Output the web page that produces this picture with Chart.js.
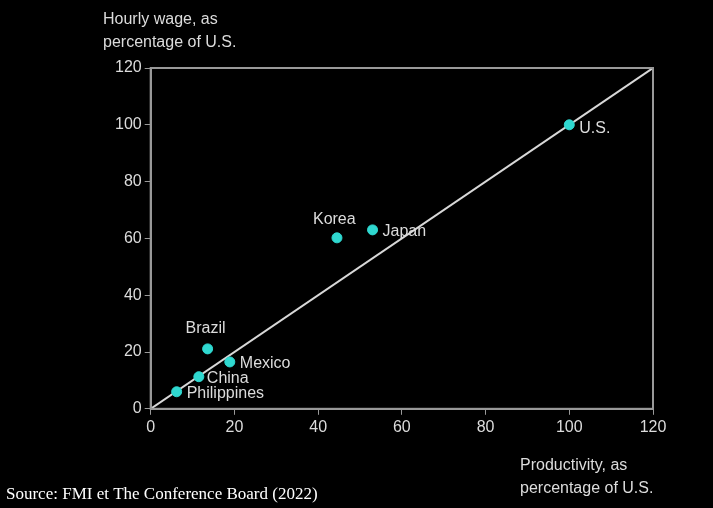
<!DOCTYPE html>
<html><head><meta charset="utf-8">
<script src="https://cdn.jsdelivr.net/npm/chart.js@4"></script>
<style>html,body{margin:0;background:#000;}#wrap{width:713px;height:508px;position:relative;}</style>
</head><body><div id="wrap"><canvas id="c"></canvas></div>
<script>
const countries = ['U.S.', 'Japan', 'Korea', 'Brazil', 'Mexico', 'China', 'Philippines'];
const productivity = [100, 53, 44.5, 13.6, 18.9, 11.5, 6.2];
const wages = [100, 63, 60.2, 21.1, 16.5, 11.3, 6];
const labelOffsets = [[10, 4], [10, 2], [-24, -18], [-22, -20], [10, 2], [8, 2], [10, 2]];
const ticks = [0, 20, 40, 60, 80, 100, 120];

const txt = '#dcdcdc';
const font = {family: 'Liberation Sans, Arial', size: 16};

const overlay = {
  id: 'overlay',
  afterDatasetsDraw(chart) {
    const c = chart.ctx, xs = chart.scales.x, ys = chart.scales.y;
    const a = chart.chartArea;
    c.save();
    // frame round the plot
    c.strokeStyle = '#999';
    c.lineWidth = 2;
    c.strokeRect(a.left, a.top, a.right - a.left, a.bottom - a.top);
    c.fillStyle = txt;
    c.font = '16px Liberation Sans, Arial';
    c.textBaseline = 'middle';
    countries.forEach((n, i) => {
      const o = labelOffsets[i];
      c.textAlign = 'left';
      c.fillText(n, xs.getPixelForValue(productivity[i]) + o[0], ys.getPixelForValue(wages[i]) + o[1]);
    });
    c.textBaseline = 'alphabetic';
    c.fillText('Hourly wage, as', 103, 24);
    c.fillText('percentage of U.S.', 103, 47);
    c.fillText('Productivity, as', 520, 470);
    c.fillText('percentage of U.S.', 520, 493);
    c.font = '17px Liberation Serif, serif';
    c.fillStyle = '#fff';
    c.fillText('Source: FMI et The Conference Board (2022)', 6, 499);
    c.restore();
  }
};

new Chart(document.getElementById('c'), {
  type: 'scatter',
  data: {
    datasets: [
      {
        data: productivity.map((x, i) => ({x: x, y: wages[i]})),
        backgroundColor: '#2fd8d0', borderColor: '#2fd8d0',
        pointRadius: 5, pointHoverRadius: 5
      },
      {
        type: 'line',
        data: [{x: 0, y: 0}, {x: 120, y: 120}],
        borderColor: '#d8d8d8', borderWidth: 2, pointRadius: 0
      }
    ]
  },
  options: {
    responsive: true,
    maintainAspectRatio: false,
    animation: false,
    layout: {padding: {left: 112, top: 68, right: 60, bottom: 68}},
    plugins: {legend: {display: false}, tooltip: {enabled: false}},
    scales: {
      x: {
        min: 0, max: 120,
        afterBuildTicks: s => { s.ticks = ticks.map(v => ({value: v})); },
        grid: {drawOnChartArea: false, color: '#999', tickLength: 6},
        border: {color: '#999', width: 2},
        ticks: {color: txt, font: font, maxRotation: 0}
      },
      y: {
        min: 0, max: 120,
        afterBuildTicks: s => { s.ticks = ticks.map(v => ({value: v})); },
        grid: {drawOnChartArea: false, color: '#999', tickLength: 6},
        border: {color: '#999', width: 2},
        ticks: {color: txt, font: font}
      }
    }
  },
  plugins: [overlay]
});
</script></body></html>
